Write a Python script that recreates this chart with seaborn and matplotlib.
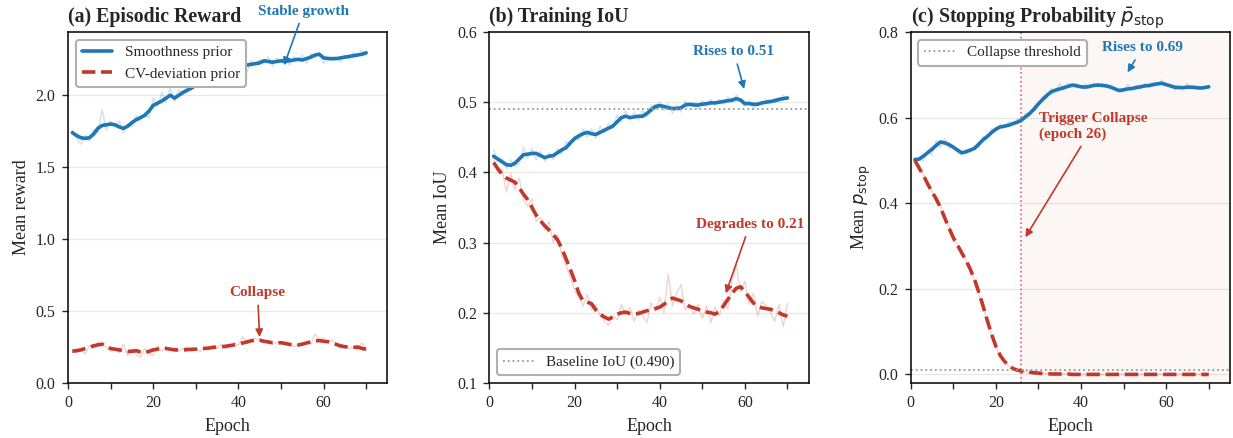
import numpy as np
import matplotlib
matplotlib.use("Agg")
import matplotlib.pyplot as plt
import seaborn as sns

# ---- datos (epocas 1..70) ----
epochs = list(range(1, 71))

reward_smooth_raw = [1.74, 1.72, 1.705, 1.70, 1.705, 1.73, 1.77, 1.79, 1.795, 1.80,
                     1.795, 1.78, 1.77, 1.785, 1.81, 1.83, 1.845, 1.86, 1.89, 1.93,
                     1.945, 1.96, 1.98, 2.0, 1.98, 2.0, 2.02, 2.035, 2.05, 2.07,
                     2.09, 2.10, 2.12, 2.14, 2.15, 2.16, 2.17, 2.18, 2.195, 2.21,
                     2.215, 2.21, 2.215, 2.22, 2.225, 2.24, 2.235, 2.23, 2.235, 2.24,
                     2.235, 2.24, 2.245, 2.25, 2.245, 2.255, 2.265, 2.28, 2.285, 2.26,
                     2.255, 2.255, 2.255, 2.26, 2.265, 2.27, 2.275, 2.28, 2.285, 2.295]
reward_smooth_noisy = [1.76, 1.70, 1.66, 1.72, 1.68, 1.76, 1.74, 1.90, 1.76, 1.82,
                       1.78, 1.82, 1.74, 1.80, 1.78, 1.86, 1.82, 1.88, 1.84, 1.98,
                       1.92, 2.02, 1.95, 2.05, 1.96, 2.04, 2.00, 2.08, 2.04, 2.10,
                       2.08, 2.14, 2.10, 2.17, 2.13, 2.19, 2.16, 2.20, 2.18, 2.24,
                       2.20, 2.16, 2.24, 2.21, 2.25, 2.22, 2.27, 2.20, 2.26, 2.23,
                       2.27, 2.21, 2.27, 2.24, 2.28, 2.22, 2.29, 2.26, 2.30, 2.22,
                       2.27, 2.24, 2.26, 2.23, 2.28, 2.25, 2.30, 2.27, 2.31, 2.28]
reward_cv = [0.22, 0.225, 0.23, 0.24, 0.25, 0.258, 0.265, 0.27, 0.255, 0.24,
             0.235, 0.23, 0.225, 0.22, 0.22, 0.225, 0.215, 0.21, 0.22, 0.23,
             0.235, 0.24, 0.24, 0.235, 0.23, 0.23, 0.23, 0.232, 0.234, 0.235,
             0.238, 0.24, 0.243, 0.247, 0.25, 0.252, 0.255, 0.26, 0.265, 0.27,
             0.278, 0.285, 0.293, 0.30, 0.298, 0.29, 0.285, 0.28, 0.278, 0.28,
             0.275, 0.268, 0.265, 0.264, 0.27, 0.278, 0.287, 0.293, 0.295, 0.29,
             0.287, 0.278, 0.268, 0.258, 0.252, 0.25, 0.248, 0.25, 0.24, 0.235]
reward_cv_noisy = [0.24, 0.21, 0.23, 0.20, 0.26, 0.24, 0.28, 0.27, 0.25, 0.22,
                   0.24, 0.21, 0.27, 0.19, 0.24, 0.20, 0.18, 0.24, 0.21, 0.19,
                   0.26, 0.22, 0.25, 0.23, 0.24, 0.22, 0.24, 0.25, 0.22, 0.24,
                   0.22, 0.25, 0.23, 0.26, 0.24, 0.27, 0.24, 0.25, 0.28, 0.26,
                   0.32, 0.28, 0.29, 0.31, 0.29, 0.28, 0.30, 0.27, 0.28, 0.29,
                   0.26, 0.28, 0.25, 0.27, 0.26, 0.28, 0.27, 0.34, 0.30, 0.31,
                   0.28, 0.30, 0.27, 0.24, 0.26, 0.24, 0.25, 0.23, 0.28, 0.23]

iou_smooth = [0.423, 0.419, 0.415, 0.411, 0.410, 0.413, 0.419, 0.425, 0.426, 0.427,
              0.427, 0.424, 0.421, 0.423, 0.424, 0.428, 0.432, 0.435, 0.442, 0.448,
              0.452, 0.455, 0.457, 0.455, 0.454, 0.457, 0.460, 0.463, 0.466, 0.472,
              0.478, 0.480, 0.478, 0.479, 0.480, 0.480, 0.484, 0.489, 0.494, 0.495,
              0.494, 0.492, 0.491, 0.491, 0.492, 0.496, 0.497, 0.496, 0.496, 0.497,
              0.498, 0.499, 0.499, 0.500, 0.501, 0.502, 0.503, 0.505, 0.503, 0.498,
              0.498, 0.497, 0.497, 0.499, 0.500, 0.501, 0.502, 0.504, 0.505, 0.506]
iou_smooth_noisy = [0.432, 0.415, 0.420, 0.405, 0.418, 0.408, 0.412, 0.436, 0.420, 0.434,
                    0.418, 0.430, 0.416, 0.428, 0.418, 0.434, 0.426, 0.444, 0.438, 0.452,
                    0.446, 0.462, 0.450, 0.462, 0.448, 0.466, 0.456, 0.470, 0.462, 0.482,
                    0.472, 0.488, 0.474, 0.486, 0.474, 0.488, 0.480, 0.496, 0.490, 0.500,
                    0.488, 0.498, 0.484, 0.496, 0.486, 0.502, 0.494, 0.500, 0.490, 0.502,
                    0.494, 0.504, 0.496, 0.504, 0.497, 0.508, 0.500, 0.510, 0.502, 0.494,
                    0.502, 0.490, 0.500, 0.496, 0.504, 0.498, 0.506, 0.500, 0.510, 0.504]
iou_cv = [0.414, 0.405, 0.397, 0.392, 0.389, 0.386, 0.378, 0.369, 0.361, 0.350,
          0.339, 0.331, 0.324, 0.318, 0.311, 0.304, 0.292, 0.277, 0.262, 0.246,
          0.228, 0.217, 0.215, 0.213, 0.204, 0.198, 0.194, 0.191, 0.194, 0.198,
          0.200, 0.201, 0.199, 0.198, 0.199, 0.201, 0.203, 0.204, 0.206, 0.208,
          0.212, 0.217, 0.221, 0.219, 0.217, 0.213, 0.209, 0.207, 0.205, 0.203,
          0.201, 0.200, 0.198, 0.202, 0.210, 0.219, 0.228, 0.235, 0.237, 0.230,
          0.222, 0.214, 0.209, 0.207, 0.206, 0.205, 0.203, 0.200, 0.197, 0.195]
iou_cv_noisy = [0.418, 0.400, 0.405, 0.372, 0.398, 0.375, 0.392, 0.360, 0.352, 0.362,
                0.330, 0.336, 0.318, 0.330, 0.300, 0.312, 0.282, 0.268, 0.250, 0.232,
                0.222, 0.210, 0.226, 0.204, 0.212, 0.196, 0.188, 0.182, 0.196, 0.190,
                0.212, 0.196, 0.208, 0.188, 0.204, 0.196, 0.186, 0.214, 0.202, 0.222,
                0.200, 0.255, 0.210, 0.228, 0.240, 0.204, 0.212, 0.198, 0.212, 0.192,
                0.210, 0.186, 0.208, 0.196, 0.218, 0.205, 0.244, 0.268, 0.230, 0.245,
                0.212, 0.228, 0.195, 0.216, 0.210, 0.200, 0.188, 0.212, 0.180, 0.214]

pstop_smooth = [0.502, 0.503, 0.510, 0.518, 0.526, 0.535, 0.543, 0.541, 0.537, 0.531,
                0.524, 0.518, 0.520, 0.524, 0.528, 0.538, 0.548, 0.556, 0.565, 0.573,
                0.578, 0.580, 0.582, 0.586, 0.589, 0.594, 0.602, 0.610, 0.620, 0.632,
                0.642, 0.652, 0.660, 0.664, 0.667, 0.670, 0.673, 0.676, 0.674, 0.672,
                0.671, 0.673, 0.675, 0.676, 0.675, 0.674, 0.671, 0.667, 0.663, 0.665,
                0.667, 0.668, 0.670, 0.672, 0.674, 0.675, 0.677, 0.679, 0.680, 0.677,
                0.674, 0.671, 0.670, 0.670, 0.671, 0.671, 0.670, 0.669, 0.670, 0.672]
pstop_smooth_noisy = [0.500, 0.506, 0.498, 0.522, 0.512, 0.546, 0.530, 0.552, 0.528, 0.534,
                      0.518, 0.512, 0.526, 0.520, 0.534, 0.530, 0.556, 0.550, 0.574, 0.566,
                      0.584, 0.574, 0.590, 0.580, 0.598, 0.588, 0.610, 0.604, 0.626, 0.630,
                      0.650, 0.646, 0.668, 0.660, 0.680, 0.664, 0.680, 0.672, 0.680, 0.668,
                      0.678, 0.668, 0.680, 0.672, 0.680, 0.670, 0.676, 0.662, 0.668, 0.660,
                      0.678, 0.664, 0.676, 0.668, 0.680, 0.670, 0.682, 0.674, 0.688, 0.676,
                      0.678, 0.664, 0.676, 0.666, 0.680, 0.668, 0.674, 0.666, 0.674, 0.670]
pstop_cv = [0.500, 0.482, 0.465, 0.445, 0.427, 0.410, 0.390, 0.366, 0.342, 0.320,
            0.302, 0.284, 0.266, 0.246, 0.222, 0.192, 0.160, 0.126, 0.094, 0.066,
            0.045, 0.031, 0.021, 0.014, 0.010, 0.008, 0.006, 0.005, 0.004, 0.003,
            0.002, 0.002, 0.001, 0.001, 0.001, 0.001, 0.001, 0.0, 0.0, 0.0,
            0.0, 0.0, 0.0, 0.0, 0.0, 0.0, 0.0, 0.0, 0.0, 0.0,
            0.0, 0.0, 0.0, 0.0, 0.0, 0.0, 0.0, 0.0, 0.0, 0.0,
            0.0, 0.0, 0.0, 0.0, 0.0, 0.0, 0.0, 0.0, 0.0, 0.0]
pstop_cv_noisy = [0.502, 0.478, 0.468, 0.440, 0.430, 0.402, 0.395, 0.360, 0.345, 0.312,
                  0.305, 0.280, 0.268, 0.240, 0.222, 0.186, 0.160, 0.122, 0.092, 0.064,
                  0.044, 0.030, 0.020, 0.013, 0.010, 0.007, 0.006, 0.005, 0.004, 0.003,
                  0.002, 0.002, 0.001, 0.001, 0.001, 0.001, 0.001, 0.0, 0.0, 0.0,
                  0.0, 0.0, 0.0, 0.0, 0.0, 0.0, 0.0, 0.0, 0.0, 0.0,
                  0.0, 0.0, 0.0, 0.0, 0.0, 0.0, 0.0, 0.0, 0.0, 0.0,
                  0.0, 0.0, 0.0, 0.0, 0.0, 0.0, 0.0, 0.0, 0.0, 0.0]

baseline_iou = 0.49
collapse_threshold = 0.01
collapse_epoch = 26

BLUE = "#1f77b4"
RED = "#c0392b"

sns.set_style("ticks")
plt.rcParams['font.family'] = ['Liberation Serif', 'DejaVu Serif']
plt.rcParams['mathtext.fontset'] = 'dejavusans'
plt.rcParams['axes.linewidth'] = 1.1

fig, axes = plt.subplots(1, 3, figsize=(12.33, 4.38), dpi=100)
fig.subplots_adjust(left=0.0552, right=0.9976, bottom=0.1256, top=0.927, wspace=0.319)


def dibujar(ax, smooth, noisy, color, ls, label=None):
    sns.lineplot(x=epochs, y=noisy, ax=ax, color=color, lw=1.0, alpha=0.22)
    sns.lineplot(x=epochs, y=smooth, ax=ax, color=color, lw=2.6, ls=ls, label=label)


def estilo(ax, ylim, yticks):
    ax.set_xlim(0, 75)
    ax.set_ylim(*ylim)
    ax.set_xticks([0, 20, 40, 60])
    ax.set_xticks([10, 30, 50, 70], minor=True)
    ax.set_yticks(yticks)
    ax.set_yticklabels([f"{t:.1f}" for t in yticks])
    ax.tick_params(axis='both', which='both', labelsize=11.5, length=4, width=1,
                   direction='out', pad=5)
    ax.yaxis.grid(True, color='#e8e8e8', lw=0.9)
    ax.set_axisbelow(True)
    ax.set_xlabel('Epoch', fontsize=13, labelpad=5)
    for s in ax.spines.values():
        s.set_visible(True)
        s.set_color('black')


leg_kw = dict(fontsize=11, frameon=True, fancybox=True, edgecolor='#b0b0b0', framealpha=1.0)

# (a) recompensa
ax = axes[0]
dibujar(ax, reward_smooth_raw, reward_smooth_noisy, BLUE, '-', 'Smoothness prior')
dibujar(ax, reward_cv, reward_cv_noisy, RED, '--', 'CV-deviation prior')
estilo(ax, (0, 2.44), [0.0, 0.5, 1.0, 1.5, 2.0])
ax.set_ylabel('Mean reward', fontsize=13)
ax.set_title('(a) Episodic Reward', loc='left', fontsize=14.3, fontweight='bold', pad=7)
ax.legend(loc='upper left', **leg_kw).get_frame().set_linewidth(1.5)
ax.annotate('Stable growth', xy=(50.5, 2.19), xytext=(55.3, 2.585), ha='center', va='center',
            fontsize=11, fontweight='bold', color=BLUE,
            arrowprops=dict(arrowstyle='-|>', color=BLUE, lw=1.2))
ax.annotate('Collapse', xy=(45, 0.30), xytext=(44.5, 0.627), ha='center', va='center',
            fontsize=11, fontweight='bold', color=RED,
            arrowprops=dict(arrowstyle='-|>', color=RED, lw=1.2))

# (b) IoU
ax = axes[1]
dibujar(ax, iou_smooth, iou_smooth_noisy, BLUE, '-')
dibujar(ax, iou_cv, iou_cv_noisy, RED, '--')
ax.axhline(baseline_iou, color='#999999', ls=':', lw=1.3, label=f'Baseline IoU ({baseline_iou:.3f})')
estilo(ax, (0.1, 0.6), [0.1, 0.2, 0.3, 0.4, 0.5, 0.6])
ax.set_ylabel('Mean IoU', fontsize=13)
ax.set_title('(b) Training IoU', loc='left', fontsize=14.3, fontweight='bold', pad=7)
ax.legend(loc='lower left', **leg_kw).get_frame().set_linewidth(1.5)
ax.annotate('Rises to 0.51', xy=(60, 0.515), xytext=(57.4, 0.572), ha='center', va='center',
            fontsize=11, fontweight='bold', color=BLUE,
            arrowprops=dict(arrowstyle='-|>', color=BLUE, lw=1.2))
ax.annotate('Degrades to 0.21', xy=(55.3, 0.224), xytext=(61.2, 0.326), ha='center', va='center',
            fontsize=11, fontweight='bold', color=RED,
            arrowprops=dict(arrowstyle='-|>', color=RED, lw=1.2))

# (c) probabilidad de parada
ax = axes[2]
ax.axvspan(collapse_epoch, 75, color=RED, alpha=0.045, lw=0)
ax.axvline(collapse_epoch, color='#e06060', ls=':', lw=1.2)
dibujar(ax, pstop_smooth, pstop_smooth_noisy, BLUE, '-')
dibujar(ax, pstop_cv, pstop_cv_noisy, RED, '--')
ax.axhline(collapse_threshold, color='#999999', ls=':', lw=1.3, label='Collapse threshold')
estilo(ax, (-0.02, 0.8), [0.0, 0.2, 0.4, 0.6, 0.8])
ax.set_ylabel(r'Mean $p_{\mathrm{stop}}$', fontsize=13)
ax.set_title(r'(c) Stopping Probability $\bar{p}_{\mathrm{stop}}$', loc='left', fontsize=14.3,
             fontweight='bold', pad=7)
ax.legend(loc='upper left', **leg_kw).get_frame().set_linewidth(1.5)
ax.annotate('Rises to 0.69', xy=(50.6, 0.70), xytext=(54.4, 0.763), ha='center', va='center',
            fontsize=11, fontweight='bold', color=BLUE,
            arrowprops=dict(arrowstyle='-|>', color=BLUE, lw=1.2))
ax.annotate(f'Trigger Collapse\n(epoch {collapse_epoch})', xy=(26.6, 0.315), xytext=(30.1, 0.579),
            ha='left', va='center', fontsize=11, fontweight='bold', color=RED,
            arrowprops=dict(arrowstyle='-|>', color=RED, lw=1.2))

fig.savefig('out.png', dpi=100)
